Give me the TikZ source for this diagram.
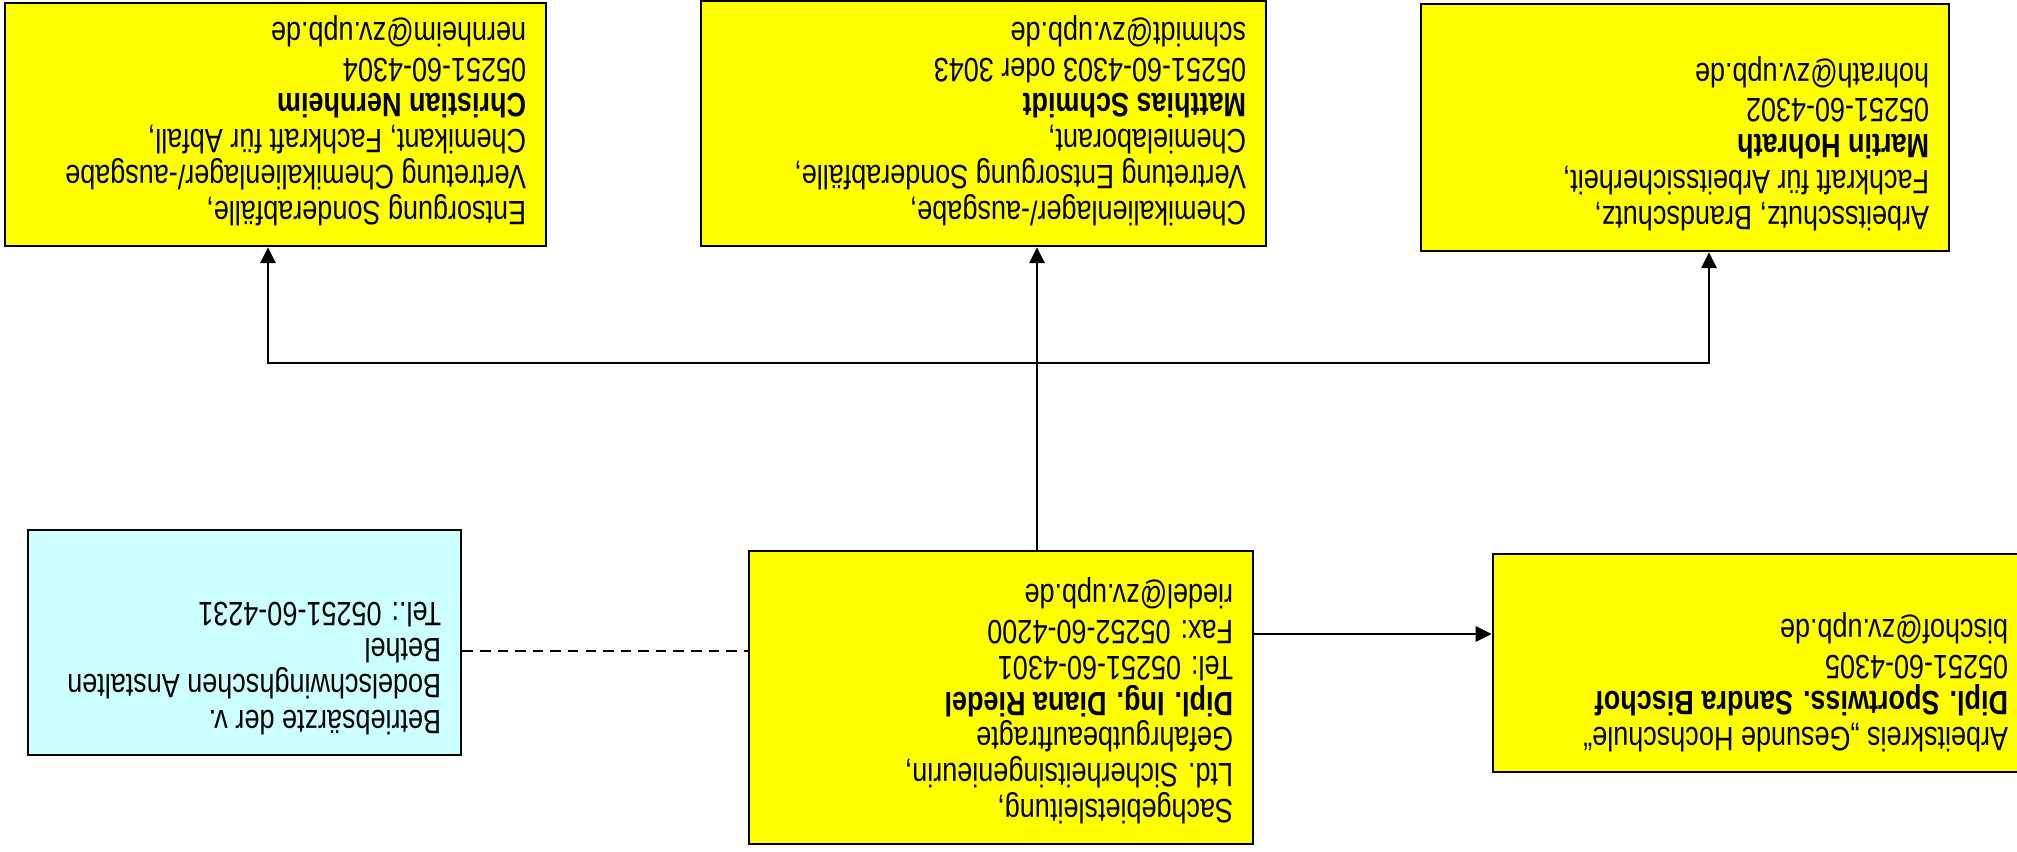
\documentclass[tikz,border=0pt]{standalone}
\usepackage{fontspec}
\setmainfont{Liberation Sans}[FakeStretch=0.80]
\usepackage{graphicx}
\usetikzlibrary{arrows.meta, positioning}
\definecolor{gelb}{RGB}{255, 255, 0}
\definecolor{hellcyan}{RGB}{204, 255, 255}
\newcommand{\kopftext}[3]{\rotatebox{180}{\parbox[c][#1][t]{#2}{\raggedright #3}}}

\begin{document}
\begin{tikzpicture}[x=0.01cm, y=-0.01cm,
        font=\fontsize{9.6}{10.2}\selectfont,
        stellebox/.style={rectangle, draw=black, line width=0.75pt, fill=gelb, inner sep=0.2cm},
        pfeil/.style={-{Triangle[length=4.5pt, width=4.4pt]}, line width=0.55pt}
    ]
        \useasboundingbox (0,0) rectangle (2017,851);
        \clip (0,0) rectangle (2017,851);
        % obere Reihe
        \node[stellebox] (nernheim) at (275.5,124.5) {\kopftext{2.03cm}{5.01cm}{Entsorgung Sonderabfälle,\\ Vertretung Chemikalienlager/-ausgabe\\ Chemikant, Fachkraft für Abfall,\\ \textbf{Christian Nernheim}\\ 05251-60-4304\\ nernheim@zv.upb.de}};
        \node[stellebox] (schmidt) at (983.5,123.5) {\kopftext{2.05cm}{5.25cm}{Chemikalienlager/-ausgabe,\\ Vertretung Entsorgung Sonderabfälle,\\ Chemielaborant,\\ \textbf{Matthias Schmidt}\\ 05251-60-4303 oder 3043\\ schmidt@zv.upb.de}};
        \node[stellebox] (hohrath) at (1685,127.5) {\kopftext{2.07cm}{4.88cm}{Arbeitsschutz, Brandschutz,\\ Fachkraft für Arbeitssicherheit,\\ \textbf{Martin Hohrath}\\ 05251-60-4302\\ hohrath@zv.upb.de}};
        % untere Reihe
        \node[stellebox, fill=hellcyan] (aerzte) at (244.5,642.5) {\kopftext{1.85cm}{3.93cm}{Betriebsärzte der v.\\ Bodelschwinghschen Anstalten\\ Bethel\\ Tel.: 05251-60-4231}};
        \node[stellebox] (riedel) at (1001,697.5) {\kopftext{2.53cm}{4.64cm}{Sachgebietsleitung,\\ Ltd. Sicherheitsingenieurin,\\ Gefahrgutbeauftragte\\ \textbf{Dipl. Ing. Diana Riedel}\\ Tel: 05251-60-4301\\ Fax: 05252-60-4200\\ riedel@zv.upb.de}};
        \node[stellebox] (bischof) at (1760.5,663) {\kopftext{1.78cm}{4.95cm}{Arbeitskreis „Gesunde Hochschule“\\ \textbf{Dipl. Sportwiss. Sandra Bischof}\\ 05251-60-4305\\ bischof@zv.upb.de}};
        % Verbindungen
        \coordinate (mitte) at (1037,363);
        \coordinate (links) at (268,363);
        \coordinate (rechts) at (1709,363);
        \coordinate (quer) at (0,634);
        \coordinate (strich) at (0,651);
        \draw[pfeil] (riedel.north -| mitte) -- (schmidt.south -| mitte);
        \foreach \ziel/\ecke in {nernheim/links, hohrath/rechts}
            \draw[pfeil] (mitte) -| (\ziel.south -| \ecke);
        \draw[pfeil] (riedel.east |- quer) -- (bischof.west |- quer);
        \draw[line width=0.55pt, dash pattern=on 3pt off 2pt] (aerzte.east |- strich) -- (riedel.west |- strich);
    \end{tikzpicture}
\end{document}
